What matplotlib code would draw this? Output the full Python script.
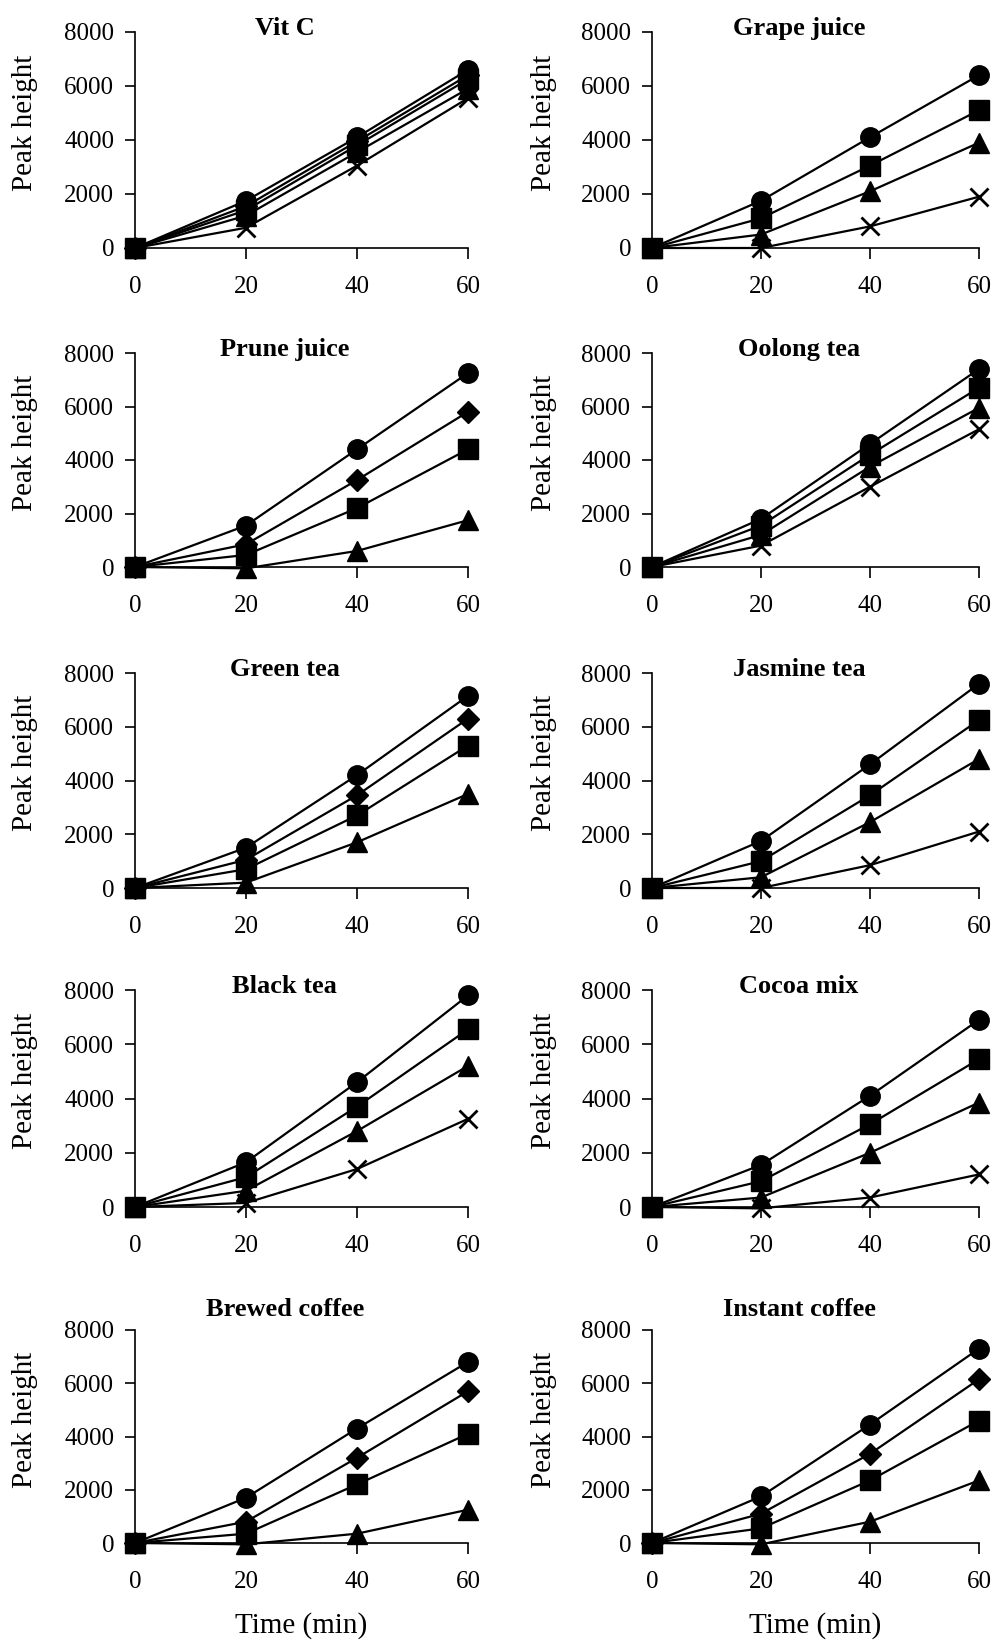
import matplotlib
matplotlib.use("Agg")
from matplotlib import pyplot as plt

# sampling times (min)
times = [0, 20, 40, 60]

# peak heights, keyed by marker shape
vit_c = {"circle": [0, 1750, 4100, 6600], "diamond": [0, 1550, 3950, 6400],
         "square": [0, 1400, 3800, 6250], "triangle": [0, 1200, 3550, 5900],
         "cross": [0, 750, 3050, 5550]}
grape_juice = {"circle": [0, 1750, 4100, 6400], "square": [0, 1100, 3050, 5100],
               "triangle": [0, 500, 2100, 3900], "cross": [0, 0, 800, 1900]}
prune_juice = {"circle": [0, 1550, 4400, 7250], "diamond": [0, 850, 3250, 5800],
               "square": [0, 450, 2200, 4400], "triangle": [0, -50, 600, 1750]}
oolong_tea = {"circle": [0, 1800, 4600, 7400], "square": [0, 1550, 4200, 6700],
              "triangle": [0, 1200, 3750, 5950], "cross": [0, 800, 3000, 5150]}
green_tea = {"circle": [0, 1500, 4200, 7150], "diamond": [0, 1050, 3450, 6300],
             "square": [0, 700, 2700, 5300], "triangle": [0, 200, 1700, 3500]}
jasmine_tea = {"circle": [0, 1750, 4600, 7600], "square": [0, 1000, 3450, 6250],
               "triangle": [0, 400, 2450, 4800], "cross": [0, 0, 850, 2100]}
black_tea = {"circle": [0, 1650, 4600, 7800], "square": [0, 1100, 3700, 6550],
             "triangle": [0, 600, 2800, 5200], "cross": [0, 150, 1400, 3250]}
cocoa_mix = {"circle": [0, 1550, 4100, 6900], "square": [0, 950, 3050, 5450],
             "triangle": [0, 350, 2000, 3850], "cross": [0, -50, 350, 1200]}
brewed_coffee = {"circle": [0, 1700, 4300, 6800], "diamond": [0, 800, 3200, 5700],
                 "square": [0, 350, 2200, 4100], "triangle": [0, -50, 350, 1250]}
instant_coffee = {"circle": [0, 1750, 4450, 7300], "diamond": [0, 1100, 3350, 6150],
                  "square": [0, 550, 2350, 4600], "triangle": [0, -50, 800, 2350]}

titles = ["Vit C", "Grape juice", "Prune juice", "Oolong tea", "Green tea",
          "Jasmine tea", "Black tea", "Cocoa mix", "Brewed coffee", "Instant coffee"]
datasets = [vit_c, grape_juice, prune_juice, oolong_tea, green_tea,
            jasmine_tea, black_tea, cocoa_mix, brewed_coffee, instant_coffee]

# marker looks
styles = {"cross": dict(marker="x", ms=13, mew=2.0, zorder=3),
          "triangle": dict(marker="^", ms=14, zorder=4),
          "diamond": dict(marker="D", ms=11, zorder=5),
          "circle": dict(marker="o", ms=14, zorder=6),
          "square": dict(marker="s", ms=14, zorder=7)}

plt.rcParams["font.family"] = ["Liberation Serif", "DejaVu Serif"]

W, H = 998, 1641
fig = plt.figure(figsize=(W / 100, H / 100), dpi=100)

# axes frames in pixels: column x-range, row top/bottom
cols = [(135, 468), (652, 979)]
rows = [(32, 248), (353, 567), (673, 888), (990, 1207), (1330, 1543)]

for k, (title, data) in enumerate(zip(titles, datasets)):
    r, c = divmod(k, 2)
    x0, x1 = cols[c]
    top, bot = rows[r]
    ax = fig.add_axes([x0 / W, 1 - bot / H, (x1 - x0) / W, (bot - top) / H])
    for name, vals in data.items():
        st = dict(styles[name])
        z = st.pop("zorder")
        ax.plot(times, vals, color="black", lw=1.6, mfc="black", mec="black",
                clip_on=False, zorder=z, **st)
    ax.set_xlim(0, 60)
    ax.set_ylim(0, 8000)
    ax.set_xticks(times)
    ax.set_yticks([0, 2000, 4000, 6000, 8000])
    ax.spines["top"].set_visible(False)
    ax.spines["right"].set_visible(False)
    ax.spines["left"].set_linewidth(1.2)
    ax.spines["bottom"].set_linewidth(1.2)
    ax.tick_params(axis="y", direction="out", length=7, width=1.2, pad=8, labelsize=18)
    ax.tick_params(axis="x", direction="out", length=8, width=1.2, pad=12, labelsize=18)
    ax.set_ylabel("Peak height", fontsize=21)
    ax.yaxis.set_label_coords(-0.29, 0.58)
    ty = 1.095 if r == 4 else 1.015
    ax.text(0.45, ty, title, transform=ax.transAxes, ha="center", va="center",
            fontsize=19, fontweight="bold")
    if r == 4:
        ax.set_xlabel("Time (min)", fontsize=21, labelpad=14)

fig.savefig("out.png", dpi=100)
